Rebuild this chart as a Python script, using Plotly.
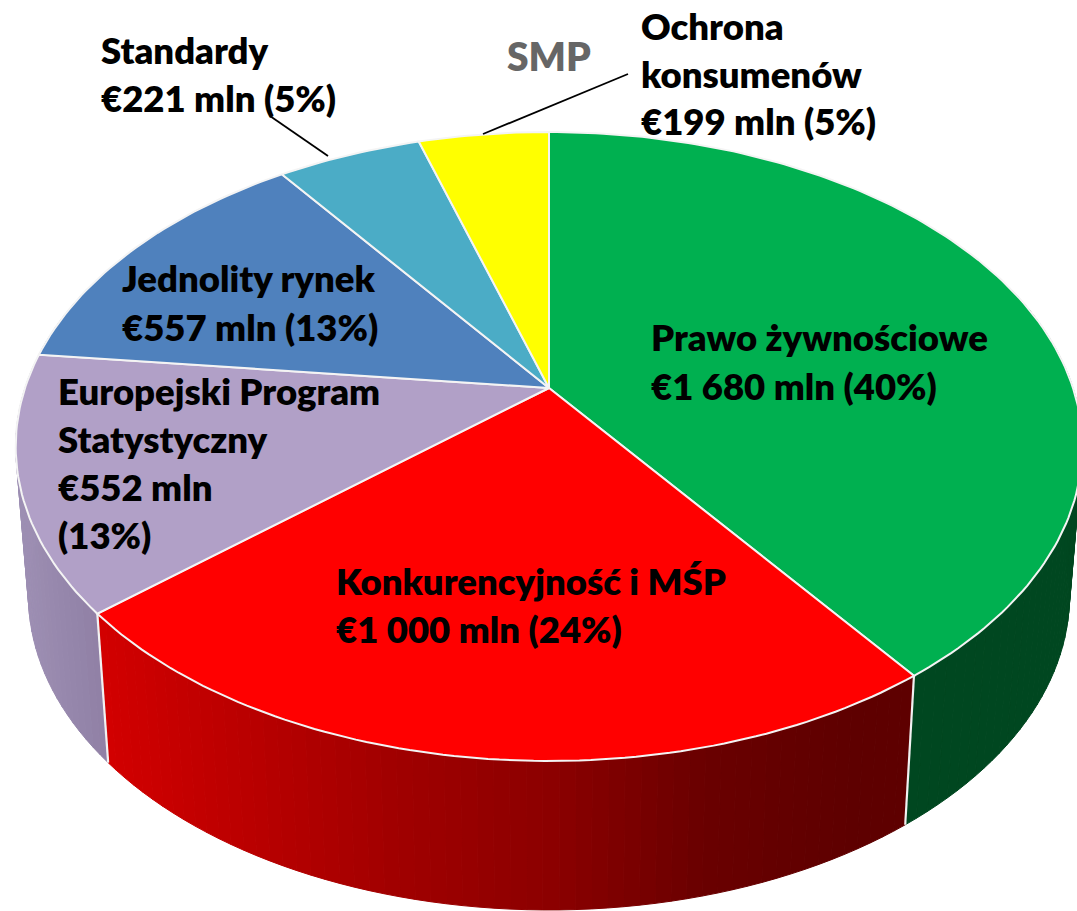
import numpy as np
import plotly.graph_objects as go

# ---- data ----
categories = ["Prawo żywnościowe", "Konkurencyjność i MŚP", "Europejski Program Statystyczny",
              "Jednolity rynek", "Standardy", "Ochrona konsumenów"]
values_mln = [1680, 1000, 552, 557, 221, 199]

# ---- styles ----
top_colors = ["#00B050", "#FF0000", "#B1A0C7", "#4F81BD", "#4BACC6", "#FFFF00"]
wall_stops_x = {0: [0, 1077], 1: [100, 250, 400, 550, 700, 850, 1000], 2: [0, 110], 3: [0, 1], 4: [0, 1], 5: [0, 1]}
wall_stops_rgb = {
    0: [(0, 71, 32), (0, 71, 32)],
    1: [(212, 0, 0), (186, 0, 0), (160, 0, 0), (140, 0, 0), (106, 0, 0), (94, 0, 0), (94, 0, 0)],
    2: [(162, 148, 184), (144, 128, 165)],
    3: [(60, 90, 130), (60, 90, 130)],
    4: [(50, 120, 140), (50, 120, 140)],
    5: [(180, 180, 0), (180, 180, 0)],
}

# ---- projection of the 3-D pie (perspective of a unit disc) ----
CX, CY, A, B, K = 549.0, 388.0, 524.0, 303.6, 0.186
WALL_SCALE_X, WALL_DROP = 0.976, 149.0


def top_rim(theta):
    X, Y = np.sin(theta), np.cos(theta)
    w = 1 + K * Y
    return CX + A * X / w, CY - B * Y / w


def bottom_rim(theta):
    x, y = top_rim(theta)
    return CX + WALL_SCALE_X * (x - CX), y + WALL_DROP


def wall_color(i, x):
    xs = wall_stops_x[i]
    rgb = np.array(wall_stops_rgb[i], dtype=float)
    c = [int(round(np.interp(x, xs, rgb[:, k]))) for k in range(3)]
    return f"rgb({c[0]},{c[1]},{c[2]})"


fractions = np.array(values_mln, dtype=float) / sum(values_mln)
edges = np.concatenate([[0], np.cumsum(fractions)]) * 2 * np.pi

fig = go.Figure()

# walls
STEP = np.radians(1.5)
for i in range(len(values_mln)):
    lo, hi = max(edges[i], np.radians(70)), min(edges[i + 1], np.radians(290))
    if hi <= lo:
        continue
    n = max(2, int(np.ceil((hi - lo) / STEP)) + 1)
    th = np.linspace(lo, hi, n)
    for a, b in zip(th[:-1], th[1:]):
        xt, yt = top_rim(np.array([a, b]))
        xb, yb = bottom_rim(np.array([a, b]))
        col = wall_color(i, float(xb.mean()))
        fig.add_trace(go.Scatter(
            x=[xt[0], xt[1], xb[1], xb[0], xt[0]], y=[yt[0], yt[1], yb[1], yb[0], yt[0]],
            mode="lines", fill="toself", fillcolor=col, line=dict(color=col, width=1),
            hoverinfo="skip", showlegend=False))

# white seams between walls
for e in edges[1:3]:
    xt, yt = top_rim(e)
    xb, yb = bottom_rim(e)
    fig.add_trace(go.Scatter(x=[xt, xb], y=[yt, yb], mode="lines",
                             line=dict(color="#F2F2F2", width=2.2), hoverinfo="skip", showlegend=False))

# top face
for i, name in enumerate(categories):
    n = max(8, int(np.degrees(edges[i + 1] - edges[i])))
    th = np.linspace(edges[i], edges[i + 1], n)
    xr, yr = top_rim(th)
    fig.add_trace(go.Scatter(
        x=np.concatenate([[CX], xr, [CX]]), y=np.concatenate([[CY], yr, [CY]]),
        mode="lines", fill="toself", fillcolor=top_colors[i],
        line=dict(color="#F4F4F4", width=2), name=name, hoverinfo="skip", showlegend=False))

# ---- labels ----
FS = 36.5
label_lines = [
    ("Standardy", 100, 63), ("€221 mln (5%)", 100, 111),
    ("Ochrona", 640, 39), ("konsumenów", 640, 87), ("€199 mln (5%)", 640, 134),
    ("Prawo żywnościowe", 650, 350), ("€1 680 mln (40%)", 650, 399),
    ("Jednolity rynek", 121, 291), ("€557 mln (13%)", 121, 340),
    ("Europejski Program", 57, 404), ("Statystyczny", 57, 452), ("€552 mln", 57, 500), ("(13%)", 57, 548),
    ("Konkurencyjność i MŚP", 335, 594), ("€1 000 mln (24%)", 335, 642),
]
annotations = [dict(text=t, x=x, y=y - 0.36 * FS, xref="x", yref="y", xanchor="left", yanchor="middle",
                    showarrow=False, borderpad=0,
                    font=dict(family="Lato", size=FS, color="#000000", weight=800))
               for t, x, y in label_lines]
annotations.append(dict(text="SMP", x=549, y=56, xref="x", yref="y", xanchor="center", yanchor="middle",
                        showarrow=False, borderpad=0,
                        font=dict(family="Lato", size=39, color="#666666", weight=800)))

leaders = [dict(type="line", xref="x", yref="y", x0=270, y0=116, x1=328, y1=156, line=dict(color="#000000", width=1.8)),
           dict(type="line", xref="x", yref="y", x0=628, y0=74, x1=483, y1=134, line=dict(color="#000000", width=1.8))]

fig.update_layout(
    width=1077, height=911, margin=dict(l=0, r=0, t=0, b=0),
    paper_bgcolor="white", plot_bgcolor="white", showlegend=False,
    xaxis=dict(range=[0, 1077], visible=False, fixedrange=True),
    yaxis=dict(range=[911, 0], visible=False, fixedrange=True),
    annotations=annotations, shapes=leaders,
)

fig.write_html("out.html", post_script="document.body.style.margin='0';document.body.style.overflow='hidden';",
               config={"displayModeBar": False})
